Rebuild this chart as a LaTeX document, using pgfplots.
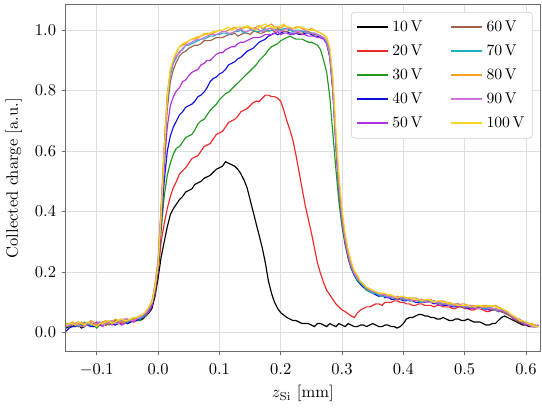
\documentclass[border=0pt]{standalone}
\usepackage{pgfplots}
\usepackage{pgfplotstable}
\pgfplotsset{compat=1.18}
\definecolor{c10}{HTML}{000000}
\definecolor{c20}{HTML}{F02828}
\definecolor{c30}{HTML}{1F9A1F}
\definecolor{c40}{HTML}{1010E0}
\definecolor{c50}{HTML}{B030E0}
\definecolor{c60}{HTML}{A0604A}
\definecolor{c70}{HTML}{20B0C0}
\definecolor{c80}{HTML}{F5A020}
\definecolor{c90}{HTML}{D070D8}
\definecolor{c100}{HTML}{F5D520}
\pgfplotstableread{
x v10 v20 v30 v40 v50 v60 v70 v80 v90 v100
-0.150 .015 .025 .02 .005 .02 .03 .025 .03 .02 .025
-0.145 .02 .03 .02 .015 .025 .03 .03 .025 .025 .03
-0.140 .02 .03 .025 .02 .03 .025 .03 .035 .025 .03
-0.135 .025 .025 .03 .02 .025 .03 .025 .03 .03 .025
-0.130 .025 .02 .03 .025 .02 .035 .02 .025 .03 .035
-0.125 .015 .03 .025 .03 .025 .03 .03 .035 .02 .03
-0.120 .02 .03 .02 .03 .03 .025 .035 .03 .02 .025
-0.115 .03 .025 .03 .025 .03 .025 .03 .03 .03 .035
-0.110 .03 .025 .035 .02 .025 .03 .025 .04 .035 .03
-0.105 .02 .03 .025 .02 .03 .03 .025 .035 .025 .025
-0.100 .025 .035 .015 .025 .035 .02 .03 .025 .03 .02
-0.095 .03 .03 .025 .03 .025 .03 .035 .03 .035 .03
-0.090 .03 .025 .03 .035 .02 .035 .03 .035 .025 .03
-0.085 .025 .035 .03 .03 .035 .025 .035 .04 .03 .035
-0.080 .035 .03 .025 .03 .03 .03 .04 .03 .035 .04
-0.075 .035 .03 .035 .03 .025 .035 .035 .035 .04 .03
-0.070 .03 .04 .03 .025 .035 .04 .03 .045 .03 .035
-0.065 .03 .035 .035 .03 .035 .03 .04 .04 .03 .04
-0.060 .035 .03 .04 .035 .025 .035 .045 .035 .04 .045
-0.055 .035 .035 .03 .04 .03 .04 .04 .035 .045 .04
-0.050 .03 .04 .035 .03 .04 .045 .035 .04 .045 .04
-0.045 .035 .04 .04 .035 .04 .04 .045 .045 .04 .045
-0.040 .04 .035 .045 .04 .035 .04 .05 .045 .04 .05
-0.035 .045 .04 .04 .04 .045 .045 .05 .05 .045 .05
-0.030 .04 .045 .04 .045 .05 .05 .045 .055 .05 .055
-0.025 .045 .05 .05 .05 .05 .055 .055 .06 .06 .06
-0.020 .055 .06 .055 .06 .06 .065 .065 .07 .065 .07
-0.015 .065 .07 .07 .075 .07 .08 .08 .085 .08 .085
-0.010 .08 .09 .09 .09 .09 .10 .10 .105 .10 .10
-0.005 .12 .13 .14 .14 .14 .15 .15 .16 .155 .15
0.000 .18 .20 .21 .21 .22 .23 .23 .24 .235 .22
0.005 .25 .30 .34 .36 .37 .40 .40 .42 .41 .39
0.010 .30 .36 .45 .50 .55 .58 .60 .62 .61 .60
0.015 .35 .41 .52 .60 .68 .74 .77 .79 .78 .78
0.020 .39 .45 .56 .65 .75 .83 .85 .87 .86 .87
0.025 .41 .48 .59 .68 .78 .87 .89 .90 .895 .905
0.030 .425 .50 .61 .70 .80 .895 .91 .925 .915 .93
0.035 .44 .525 .615 .72 .81 .915 .93 .945 .925 .945
0.040 .45 .535 .63 .73 .83 .925 .935 .95 .94 .955
0.045 .465 .545 .645 .745 .835 .93 .95 .955 .95 .96
0.050 .47 .56 .65 .75 .85 .94 .95 .965 .955 .965
0.055 .475 .575 .655 .755 .86 .945 .955 .97 .96 .97
0.060 .49 .58 .67 .765 .865 .95 .96 .97 .965 .975
0.065 .495 .585 .69 .78 .87 .95 .965 .975 .97 .98
0.070 .50 .60 .70 .785 .885 .955 .97 .98 .97 .98
0.075 .51 .615 .705 .795 .89 .965 .97 .985 .975 .99
0.080 .515 .62 .72 .81 .90 .965 .975 .99 .98 .985
0.085 .52 .625 .735 .83 .90 .965 .98 .985 .985 .99
0.090 .53 .64 .745 .84 .91 .97 .98 .99 .985 .995
0.095 .54 .655 .755 .845 .92 .975 .985 .995 .985 .995
0.100 .545 .66 .77 .855 .925 .975 .985 1.0 .99 1.0
0.105 .55 .665 .78 .86 .925 .975 .99 .995 .995 1.0
0.110 .565 .68 .79 .87 .935 .98 .99 .995 .995 1.005
0.115 .56 .695 .795 .885 .94 .985 .985 1.0 .99 1.01
0.120 .555 .70 .805 .89 .945 .985 .99 1.005 .99 1.0
0.125 .55 .705 .815 .895 .945 .99 .995 1.01 .995 1.005
0.130 .54 .715 .825 .905 .955 .98 .995 1.0 1.0 1.01
0.135 .525 .73 .835 .91 .96 .985 1.0 1.005 1.005 1.01
0.140 .505 .735 .845 .92 .96 .99 .99 1.01 .995 1.005
0.145 .48 .74 .855 .93 .965 .99 .995 1.01 .995 1.015
0.150 .44 .75 .865 .935 .97 .985 1.0 1.005 1.0 1.01
0.155 .40 .76 .875 .94 .975 .995 1.0 1.005 1.005 1.005
0.160 .36 .765 .885 .95 .975 .995 .995 1.01 1.005 1.0
0.165 .32 .765 .90 .96 .975 .99 .995 1.015 1.0 1.01
0.170 .28 .775 .91 .965 .98 .99 1.0 1.005 .995 1.015
0.175 .23 .785 .92 .97 .985 .995 1.005 1.01 1.0 1.02
0.180 .17 .785 .935 .98 .985 1.0 .995 1.015 1.005 1.01
0.185 .13 .78 .945 .985 .985 1.0 1.0 1.02 1.005 1.01
0.190 .10 .78 .95 .99 .99 .995 1.005 1.01 1.0 1.005
0.195 .08 .775 .955 .985 .995 1.005 1.0 1.01 1.0 1.01
0.200 .066 .765 .965 .99 .985 1.0 1.0 1.005 .995 1.015
0.205 .058 .735 .97 .995 .99 .995 1.005 1.015 1.0 1.02
0.210 .05 .70 .975 .995 .99 .995 1.005 1.01 1.005 1.01
0.215 .045 .67 .98 .99 .985 1.0 1.0 1.005 1.005 1.01
0.220 .04 .635 .975 .99 .985 1.0 .995 1.005 1.0 1.005
0.225 .04 .585 .97 .99 .99 .995 1.0 1.01 .995 1.005
0.230 .035 .53 .97 .985 .99 .99 1.0 1.01 .995 1.01
0.235 .03 .475 .97 .985 .985 .99 .995 1.005 1.0 1.01
0.240 .03 .42 .965 .99 .985 .995 .995 1.0 1.0 1.005
0.245 .03 .375 .96 .99 .98 .995 .99 1.0 .99 1.0
0.250 .025 .33 .96 .985 .98 .99 .99 1.005 .99 1.0
0.255 .02 .28 .955 .98 .98 .985 .99 1.0 .99 1.0
0.260 .03 .23 .95 .98 .975 .985 .985 .995 .985 .995
0.265 .03 .195 .935 .975 .975 .98 .98 .99 .98 .99
0.270 .025 .165 .90 .97 .97 .975 .975 .985 .975 .985
0.275 .02 .14 .86 .955 .955 .96 .96 .975 .965 .975
0.280 .03 .125 .78 .91 .915 .92 .92 .935 .925 .945
0.285 .025 .11 .66 .80 .80 .81 .815 .83 .82 .85
0.290 .02 .095 .54 .62 .62 .63 .63 .65 .64 .67
0.295 .03 .085 .43 .47 .47 .48 .48 .50 .49 .52
0.300 .025 .075 .35 .37 .37 .375 .38 .39 .385 .41
0.305 .02 .07 .29 .30 .30 .305 .31 .315 .31 .33
0.310 .03 .062 .245 .25 .25 .255 .26 .265 .26 .275
0.315 .025 .055 .21 .215 .215 .22 .22 .225 .225 .235
0.320 .02 .05 .19 .19 .19 .195 .195 .20 .20 .205
0.325 .02 .065 .17 .175 .18 .18 .175 .185 .18 .19
0.330 .025 .075 .16 .16 .165 .165 .165 .17 .17 .17
0.335 .025 .08 .15 .15 .155 .155 .155 .16 .16 .16
0.340 .02 .085 .14 .145 .145 .14 .145 .15 .15 .15
0.345 .025 .085 .135 .14 .14 .14 .135 .145 .14 .145
0.350 .03 .09 .13 .13 .135 .135 .13 .14 .135 .14
0.355 .025 .095 .13 .125 .13 .13 .13 .135 .135 .135
0.360 .02 .095 .125 .12 .125 .13 .125 .13 .13 .13
0.365 .02 .09 .12 .125 .12 .125 .12 .13 .125 .13
0.370 .025 .10 .12 .115 .12 .12 .12 .125 .125 .13
0.375 .025 .10 .115 .12 .115 .12 .12 .125 .12 .125
0.380 .02 .10 .115 .11 .115 .12 .115 .12 .12 .125
0.385 .02 .105 .115 .11 .12 .115 .115 .12 .115 .12
0.390 .015 .105 .11 .115 .11 .115 .12 .115 .12 .115
0.395 .02 .10 .11 .11 .11 .11 .115 .12 .115 .12
0.400 .03 .10 .115 .105 .11 .11 .11 .12 .115 .12
0.405 .045 .095 .11 .105 .11 .11 .11 .115 .11 .115
0.410 .05 .095 .105 .11 .105 .115 .105 .11 .11 .115
0.415 .05 .09 .11 .105 .105 .11 .11 .115 .105 .11
0.420 .055 .09 .11 .10 .11 .105 .11 .115 .105 .11
0.425 .06 .095 .105 .10 .105 .105 .105 .11 .11 .11
0.430 .06 .095 .10 .105 .10 .11 .10 .105 .11 .105
0.435 .055 .09 .10 .105 .10 .105 .105 .105 .105 .11
0.440 .055 .09 .105 .10 .105 .10 .105 .11 .10 .11
0.445 .05 .09 .10 .10 .10 .10 .10 .11 .10 .105
0.450 .05 .085 .10 .095 .10 .105 .10 .10 .105 .10
0.455 .045 .09 .095 .10 .095 .10 .10 .10 .10 .105
0.460 .045 .09 .095 .10 .09 .10 .095 .105 .10 .105
0.465 .05 .085 .095 .09 .095 .095 .095 .105 .095 .10
0.470 .045 .085 .09 .09 .095 .095 .10 .10 .095 .10
0.475 .04 .085 .09 .09 .09 .09 .095 .10 .09 .095
0.480 .04 .08 .095 .085 .09 .09 .09 .095 .09 .095
0.485 .045 .08 .09 .085 .09 .095 .09 .09 .095 .095
0.490 .045 .085 .085 .09 .085 .095 .09 .09 .095 .09
0.495 .04 .085 .085 .09 .085 .085 .09 .095 .09 .09
0.500 .04 .08 .09 .085 .09 .085 .085 .095 .085 .09
0.505 .045 .08 .09 .08 .085 .09 .085 .09 .085 .09
0.510 .04 .075 .085 .08 .08 .09 .085 .09 .09 .085
0.515 .035 .075 .08 .085 .08 .085 .085 .09 .085 .085
0.520 .035 .08 .08 .085 .085 .08 .09 .085 .08 .09
0.525 .035 .08 .085 .08 .085 .08 .085 .085 .08 .09
0.530 .03 .075 .085 .08 .08 .085 .08 .09 .085 .085
0.535 .025 .07 .08 .08 .075 .085 .08 .09 .085 .085
0.540 .025 .07 .08 .075 .08 .08 .085 .085 .08 .09
0.545 .03 .075 .08 .075 .08 .075 .08 .085 .08 .09
0.550 .03 .075 .075 .08 .075 .08 .075 .09 .08 .085
0.555 .04 .07 .07 .075 .07 .075 .075 .085 .075 .08
0.560 .05 .07 .07 .07 .075 .07 .075 .08 .075 .08
0.565 .055 .065 .07 .065 .07 .065 .07 .075 .07 .075
0.570 .05 .06 .065 .06 .065 .06 .065 .07 .065 .07
0.575 .045 .055 .055 .055 .055 .055 .06 .06 .06 .06
0.580 .04 .045 .05 .05 .045 .05 .05 .055 .05 .055
0.585 .035 .04 .045 .04 .045 .04 .045 .045 .045 .05
0.590 .03 .035 .04 .035 .04 .035 .04 .04 .045 .04
0.595 .025 .03 .035 .035 .03 .035 .035 .035 .035 .04
0.600 .025 .03 .03 .03 .025 .03 .035 .03 .03 .035
0.605 .02 .025 .025 .025 .03 .025 .03 .03 .025 .03
0.610 .02 .02 .025 .02 .025 .02 .025 .03 .02 .025
0.615 .02 .02 .02 .02 .02 .02 .025 .025 .02 .02
0.620 .02 .025 .02 .025 .02 .025 .02 .02 .025 .02
}\data
\begin{document}
\begin{tikzpicture}
\begin{axis}[
  scale only axis,
  width=286.6bp, height=209.4bp,
  xmin=-0.151, xmax=0.623,
  ymin=-0.063, ymax=1.083,
  xtick={-0.1,0,0.1,0.2,0.3,0.4,0.5,0.6},
  ytick={0,0.2,0.4,0.6,0.8,1.0},
  xticklabel style={yshift=-1.5bp,/pgf/number format/.cd,fixed,fixed zerofill,precision=1},
  yticklabel style={/pgf/number format/.cd,fixed,fixed zerofill,precision=1},
  scaled ticks=false,
  grid=major,
  major grid style={gray!25, line width=0.5pt},
  axis line style={draw=gray!85!black, line width=0.6pt},
  tick style={draw=gray!85!black, line width=0.5pt},
  tick align=outside,
  major tick length=2.2pt,
  xtick pos=bottom, ytick pos=left,
  xlabel={$z_{\mathrm{Si}}$ [mm]},
  ylabel={Collected charge [a.u.]},
  xlabel style={yshift=1pt},
  ylabel style={yshift=1pt},
  legend columns=5,
  transpose legend,
  legend cell align=left,
  legend style={at={(0.985,0.98)}, anchor=north east, draw=gray!35, rounded corners=2pt,
    fill=white, font=\fontsize{9.5}{11}\selectfont,
    /tikz/every even column/.append style={column sep=15pt},
    row sep=2.6pt, inner sep=3pt},
  legend image code/.code={\draw[#1, line width=1.1pt] (0cm,0cm) -- (0.66cm,0cm);},
  every axis plot/.append style={line width=0.7pt},
]
\addplot[c10] table[x=x,y=v10]{\data}; \addlegendentry{10\,V}
\addplot[c20] table[x=x,y=v20]{\data}; \addlegendentry{20\,V}
\addplot[c30] table[x=x,y=v30]{\data}; \addlegendentry{30\,V}
\addplot[c40] table[x=x,y=v40]{\data}; \addlegendentry{40\,V}
\addplot[c50] table[x=x,y=v50]{\data}; \addlegendentry{50\,V}
\addplot[c60] table[x=x,y=v60]{\data}; \addlegendentry{60\,V}
\addplot[c70] table[x=x,y=v70]{\data}; \addlegendentry{70\,V}
\addplot[c80] table[x=x,y=v80]{\data}; \addlegendentry{80\,V}
\addplot[c90] table[x=x,y=v90]{\data}; \addlegendentry{90\,V}
\addplot[c100] table[x=x,y=v100]{\data}; \addlegendentry{100\,V}
\end{axis}
\path (current axis.north east) ++(0,3bp);
\end{tikzpicture}
\end{document}
